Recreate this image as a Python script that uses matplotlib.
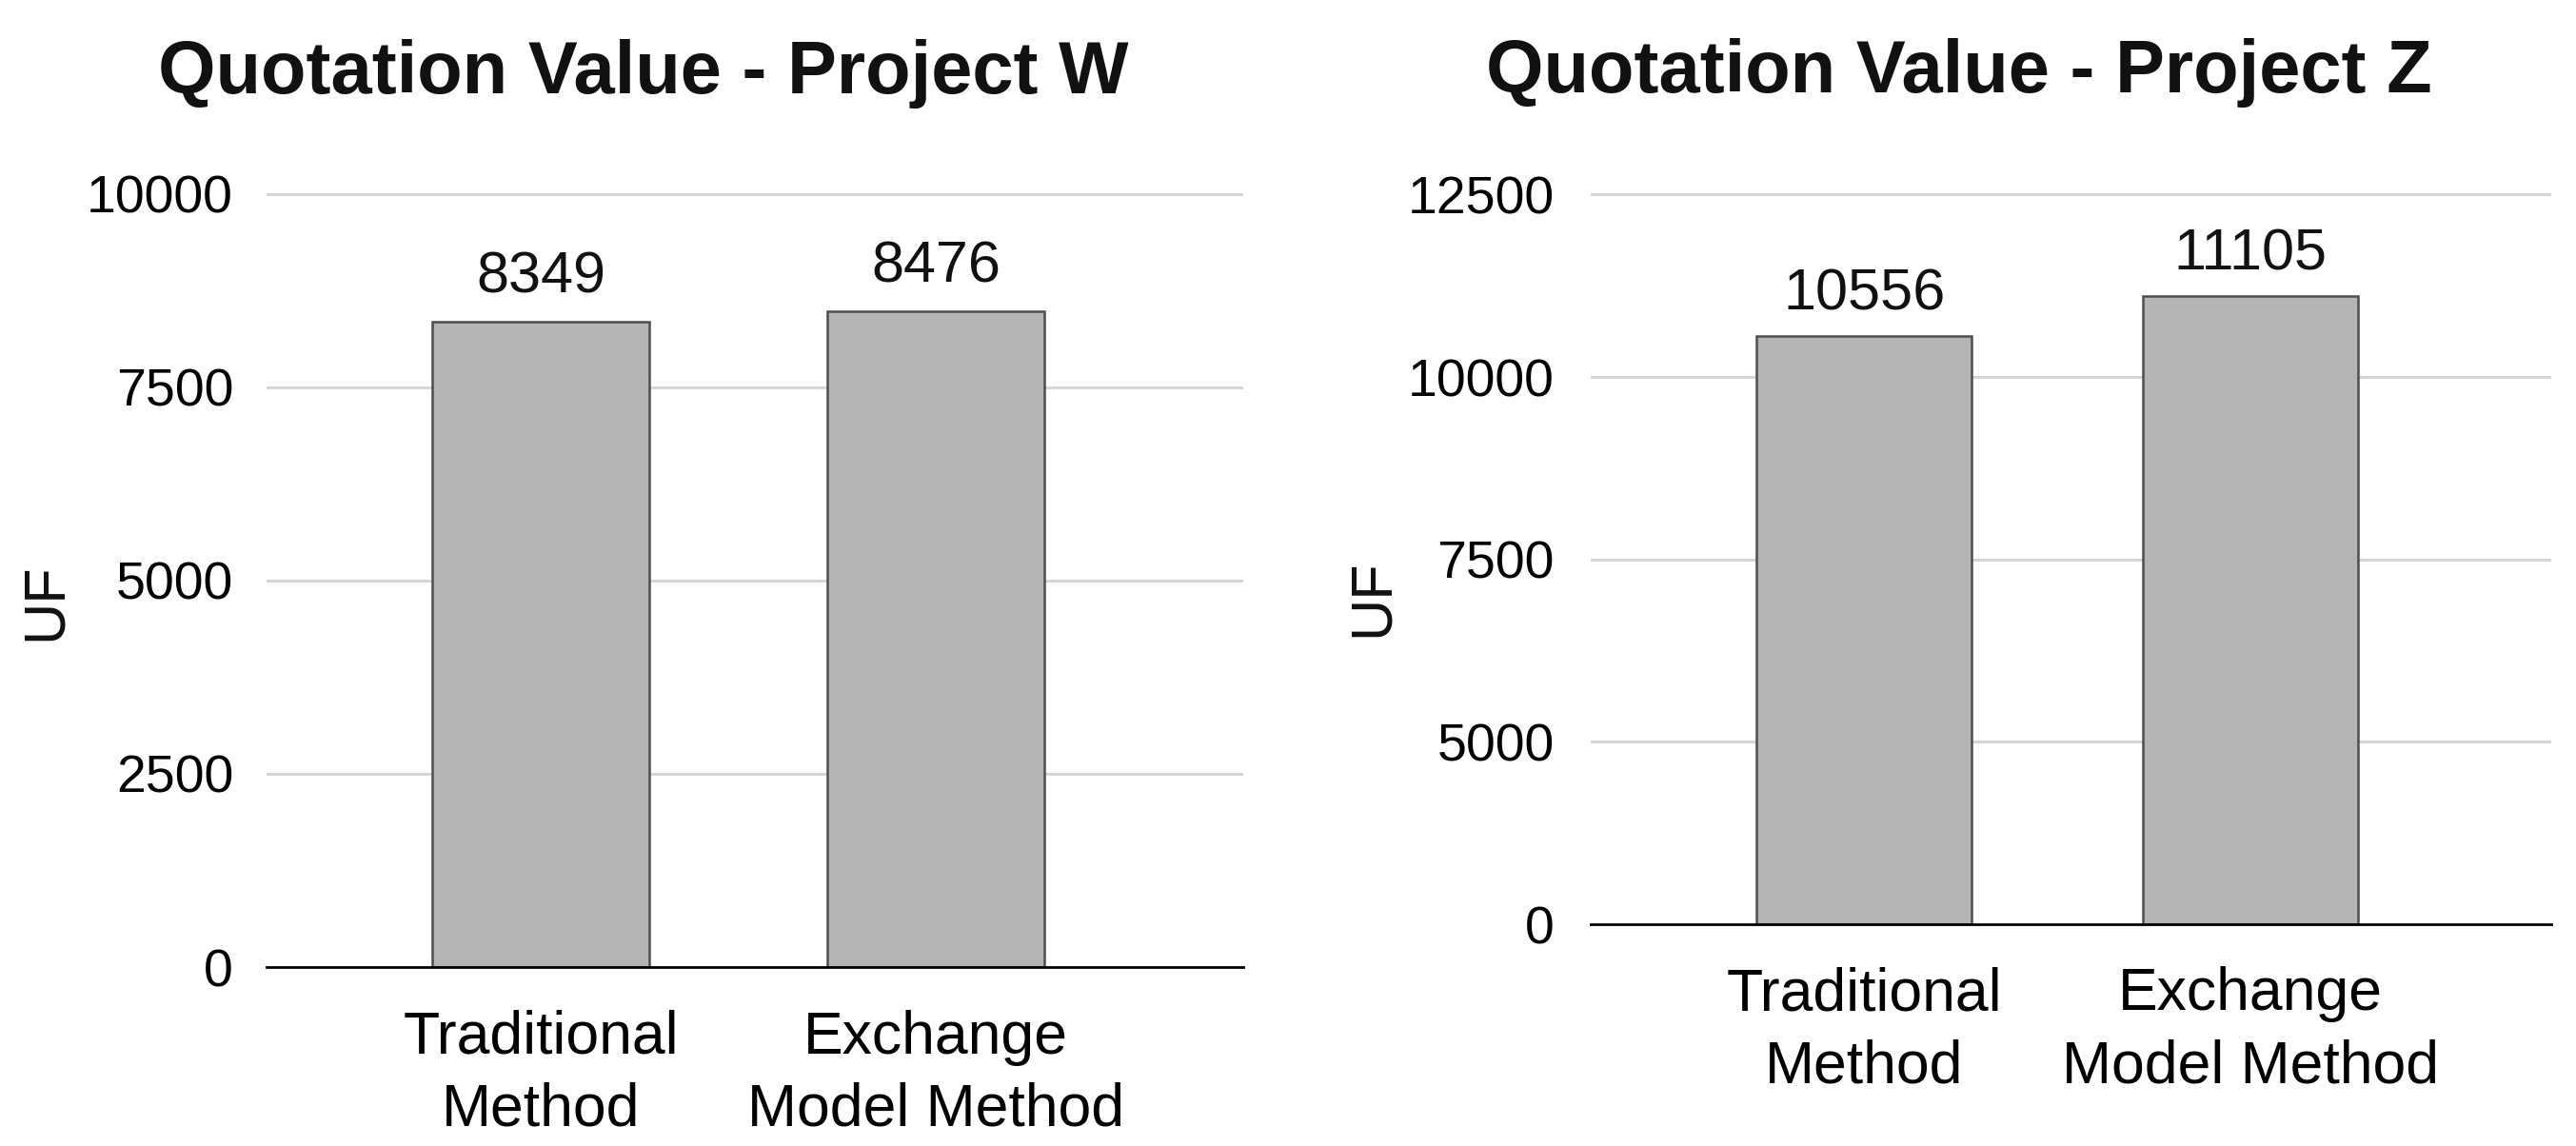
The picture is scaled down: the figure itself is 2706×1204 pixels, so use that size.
import numpy as np
import matplotlib
matplotlib.use("Agg")
import matplotlib.pyplot as plt

# chart data
methods = ["Traditional\nMethod", "Exchange\nModel Method"]
project_w = [8349, 8476]
project_z = [10556, 11105]
ticks_w = [0, 2500, 5000, 7500, 10000]
ticks_z = [0, 5000, 7500, 10000, 12500]

plt.rcParams['font.family'] = ['Liberation Sans', 'DejaVu Sans']
plt.rcParams['text.color'] = '#111111'

fig = plt.figure(figsize=(13.53, 6.02), dpi=200)

bar_color = '#b4b4b4'
edge_color = '#4d4d4d'
grid_color = '#d6d6d6'


# right chart has evenly spaced ticks at 0, 5000, 7500, ... so squeeze 0-5000
def fwd(y):
    y = np.asarray(y, dtype=float)
    return np.where(y <= 5000, y / 2, y - 2500)


def inv(y):
    y = np.asarray(y, dtype=float)
    return np.where(y <= 2500, y * 2, y + 2500)


def style_axes(ax, ticks, pad):
    ax.set_yticks(ticks)
    ax.set_yticklabels([str(t) for t in ticks])
    ax.yaxis.grid(True, color=grid_color, lw=1.1)
    ax.set_axisbelow(True)
    for s in ['top', 'right', 'left']:
        ax.spines[s].set_visible(False)
    ax.spines['bottom'].set_color('black')
    ax.spines['bottom'].set_linewidth(1.0)
    ax.tick_params(axis='y', length=0, pad=pad, labelsize=20)
    ax.tick_params(axis='x', length=0, pad=16, labelsize=22.5)
    ax.set_xticks(range(len(methods)))
    ax.set_xticklabels(methods, linespacing=1.38)


# left: Project W
ax1 = fig.add_axes([0.1035, 0.1561, 0.3791, 0.7085])
bars1 = ax1.bar(range(len(methods)), project_w, width=0.55, color=bar_color,
                edgecolor=edge_color, linewidth=0.9)
ax1.set_xlim(-0.694, 1.778)
ax1.set_ylim(0, 10500)
style_axes(ax1, ticks_w, 12.6)
for i, v in enumerate(project_w):
    ax1.annotate(str(v), (i, v), xytext=(0, 11), textcoords='offset points',
                 ha='center', va='baseline', fontsize=22)

# right: Project Z
ax2 = fig.add_axes([0.6175, 0.1935, 0.3729, 0.6686])
ax2.set_yscale('function', functions=(fwd, inv))
bars2 = ax2.bar(range(len(methods)), project_z, width=0.557, color=bar_color,
                edgecolor=edge_color, linewidth=0.9)
ax2.set_xlim(-0.707, 1.778)
ax2.set_ylim(0, 13000)
style_axes(ax2, ticks_z, 13.7)
for i, v in enumerate(project_z):
    ax2.annotate(str(v), (i, v), xytext=(0, 10), textcoords='offset points',
                 ha='center', va='baseline', fontsize=22)

# titles and axis labels
fig.text(0.2498, 0.9186, "Quotation Value - Project W", ha='center',
         va='baseline', fontsize=28, fontweight='bold')
fig.text(0.7605, 0.9194, "Quotation Value - Project Z", ha='center',
         va='baseline', fontsize=28, fontweight='bold')
fig.text(0.0177, 0.475, "UF", rotation=90, ha='center', va='center', fontsize=22)
fig.text(0.533, 0.478, "UF", rotation=90, ha='center', va='center', fontsize=22)

fig.savefig("out.png", dpi=200, facecolor='white')
